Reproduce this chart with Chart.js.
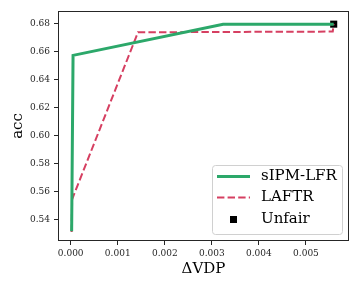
<!DOCTYPE html>
<html>
<head>
<meta charset="utf-8">
<script src="https://cdn.jsdelivr.net/npm/chart.js@4.4.1/dist/chart.umd.min.js"></script>
<style>
  html, body { margin: 0; padding: 0; background: #fff; }
  #wrap { width: 360px; height: 288px; }
</style>
</head>
<body>
<div id="wrap"><canvas id="chart"></canvas></div>
<script>
// values
const sipmX = [0.00002, 0.00005, 0.00324, 0.00559];
const sipmY = [0.5314, 0.6571, 0.6794, 0.6794];
const laftrX = [0.00002, 0.00003, 0.00143, 0.00557, 0.00559];
const laftrY = [0.5310, 0.5543, 0.6736, 0.6741, 0.6794];
const unfairX = [0.00559];
const unfairY = [0.6794];
const xTicks = [0.000, 0.001, 0.002, 0.003, 0.004, 0.005];
const yTicks = [0.54, 0.56, 0.58, 0.60, 0.62, 0.64, 0.66, 0.68];

const GREEN = "#2ca86a";
const RED = "#d63f61";
const SERIF = "'DejaVu Serif', serif";

const toPts = (xs, ys) => xs.map((x, i) => ({ x: x, y: ys[i] }));

// box around the plot + matplotlib-like legend
const framePlugin = {
    id: "frame",
    afterDatasetsDraw(chart) {
        const { ctx, chartArea: a } = chart;
        ctx.save();
        ctx.strokeStyle = "#262626";
        ctx.lineWidth = 1;
        ctx.strokeRect(a.left + 0.5, a.top + 0.5, a.right - a.left - 1, a.bottom - a.top - 1);

        // legend
        const bx = 212, by = 165, bw = 130, bh = 69;
        ctx.fillStyle = "rgba(255,255,255,0.85)";
        ctx.strokeStyle = "#d0d0d0";
        ctx.beginPath();
        ctx.roundRect(bx + 0.5, by + 0.5, bw, bh, 3);
        ctx.fill();
        ctx.stroke();

        const items = chart.data.datasets;
        const rows = [176.5, 197.5, 219.5];
        ctx.font = "15px " + SERIF;
        ctx.textBaseline = "middle";
        items.forEach((ds, i) => {
            const y = rows[i];
            ctx.save();
            if (ds.showLine === false) {
                ctx.fillStyle = ds.pointBackgroundColor;
                ctx.fillRect(230, y - 3.5, 7, 7);
            } else {
                ctx.strokeStyle = ds.borderColor;
                ctx.lineWidth = ds.borderWidth;
                ctx.setLineDash(ds.borderDash || []);
                ctx.beginPath();
                ctx.moveTo(217, y);
                ctx.lineTo(250, y);
                ctx.stroke();
            }
            ctx.restore();
            ctx.fillStyle = "#000";
            ctx.fillText(ds.label, 261, y);
        });
        ctx.restore();
    }
};

new Chart(document.getElementById("chart"), {
    type: "scatter",
    data: {
        datasets: [
            {
                label: "sIPM-LFR",
                data: toPts(sipmX, sipmY),
                showLine: true,
                borderColor: GREEN,
                borderWidth: 3,
                pointRadius: 0,
                fill: false
            },
            {
                label: "LAFTR",
                data: toPts(laftrX, laftrY),
                showLine: true,
                borderColor: RED,
                borderWidth: 2,
                borderDash: [7.4, 3.2],
                pointRadius: 0,
                fill: false
            },
            {
                label: "Unfair",
                data: toPts(unfairX, unfairY),
                showLine: false,
                pointStyle: "rect",
                pointRadius: 5,
                pointBackgroundColor: "#000",
                pointBorderWidth: 0
            }
        ]
    },
    options: {
        responsive: true,
        maintainAspectRatio: false,
        animation: false,
        layout: { padding: { top: 11, right: 11, left: 0, bottom: 0 } },
        plugins: {
            legend: { display: false },
            tooltip: { enabled: false }
        },
        scales: {
            x: {
                type: "linear",
                min: -0.00027,
                max: 0.005915,
                afterBuildTicks: (s) => { s.ticks = xTicks.map(v => ({ value: v })); },
                afterFit: (s) => { s.height = 47; },
                grid: { drawOnChartArea: false, drawTicks: true, tickLength: 4, color: "#262626" },
                border: { display: false },
                ticks: {
                    color: "#262626",
                    padding: 3,
                    maxRotation: 0,
                    font: { family: SERIF, size: 9 },
                    callback: (v) => v.toFixed(3)
                },
                title: {
                    display: true,
                    text: "ΔVDP",
                    color: "#000",
                    font: { family: SERIF, size: 15 },
                    padding: { top: 0, bottom: 10 }
                }
            },
            y: {
                type: "linear",
                min: 0.5245,
                max: 0.6888,
                afterBuildTicks: (s) => { s.ticks = yTicks.map(v => ({ value: v })); },
                afterFit: (s) => { s.width = 58; },
                grid: { drawOnChartArea: false, drawTicks: true, tickLength: 4, color: "#262626" },
                border: { display: false },
                ticks: {
                    color: "#262626",
                    padding: 4,
                    font: { family: SERIF, size: 9 },
                    callback: (v) => v.toFixed(2)
                },
                title: {
                    display: true,
                    text: "acc",
                    color: "#000",
                    font: { family: SERIF, size: 15 },
                    padding: { top: 9, bottom: 9 }
                }
            }
        }
    },
    plugins: [framePlugin]
});
</script>
</body>
</html>
